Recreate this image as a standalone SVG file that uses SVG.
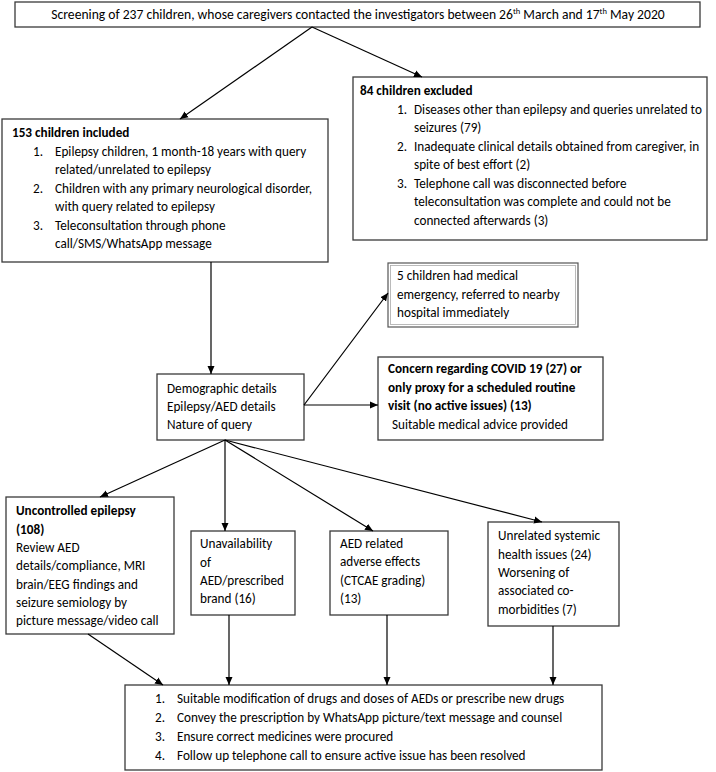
<svg xmlns="http://www.w3.org/2000/svg" width="716" height="772" viewBox="0 0 716 772">
<defs>
<marker id="ah" markerWidth="8" markerHeight="8" refX="8" refY="4" orient="auto" markerUnits="userSpaceOnUse">
<path d="M0,0.5 L8,4 L0,7.5 Z" fill="#000"/>
</marker>
<style>
.box{fill:#fff;stroke:#3a3a3a;stroke-width:1.3}
text{font-family:Carlito,Lato,"Liberation Sans",sans-serif;font-size:13.2px;fill:#000}
.b{font-weight:bold}
.c line{stroke:#000;stroke-width:1.2;marker-end:url(#ah)}
.sup{font-size:8.5px}
</style>
</defs>
<rect width="716" height="772" fill="#fff"/>

<g id="screening">
<rect class="box" x="15" y="2" width="685" height="25"/>
<text x="358" y="19" text-anchor="middle" font-size="13.6px" style="font-size:13.6px">Screening of 237 children, whose caregivers contacted the investigators between 26<tspan class="sup" dy="-5">th</tspan><tspan dy="5"> March and 17</tspan><tspan class="sup" dy="-5">th</tspan><tspan dy="5"> May 2020</tspan></text>
</g>

<g id="included">
<rect class="box" x="2" y="119" width="326" height="143"/>
<text x="12" y="137" class="b">153 children included</text>
<text x="33" y="155.5">1.</text><text x="55" y="155.5">Epilepsy children, 1 month-18 years with query</text>
<text x="55" y="174">related/unrelated to epilepsy</text>
<text x="33" y="192.5">2.</text><text x="55" y="192.5">Children with any primary neurological disorder,</text>
<text x="55" y="211">with query related to epilepsy</text>
<text x="33" y="229.5">3.</text><text x="55" y="229.5">Teleconsultation through phone</text>
<text x="55" y="248">call/SMS/WhatsApp message</text>
</g>

<g id="excluded">
<rect class="box" x="353" y="77" width="354" height="163"/>
<text x="360" y="95" class="b">84 children excluded</text>
<text x="397" y="114">1.</text><text x="414" y="114">Diseases other than epilepsy and queries unrelated to</text>
<text x="414" y="132">seizures (79)</text>
<text x="397" y="150.5">2.</text><text x="414" y="150.5">Inadequate clinical details obtained from caregiver, in</text>
<text x="414" y="169">spite of best effort (2)</text>
<text x="397" y="187.5">3.</text><text x="414" y="187.5">Telephone call was disconnected before</text>
<text x="414" y="206">teleconsultation was complete and could not be</text>
<text x="414" y="224.5">connected afterwards (3)</text>
</g>

<g id="emergency">
<rect x="388" y="263" width="190" height="64" fill="#fff" stroke="#555" stroke-width="1.2"/>
<rect x="390.5" y="265.5" width="185" height="59" fill="none" stroke="#aaa" stroke-width="0.8"/>
<text x="397" y="280">5 children had medical</text>
<text x="397" y="298.5">emergency, referred to nearby</text>
<text x="397" y="317">hospital immediately</text>
</g>

<g id="concern">
<rect class="box" x="378" y="357" width="225" height="83"/>
<text x="388" y="373" class="b">Concern regarding COVID 19 (27) or</text>
<text x="388" y="391.5" class="b">only proxy for a scheduled routine</text>
<text x="388" y="410" class="b">visit (no active issues) (13)</text>
<text x="392" y="428.5">Suitable medical advice provided</text>
</g>

<g id="demographic">
<rect class="box" x="157" y="374" width="147" height="66"/>
<text x="167" y="393">Demographic details</text>
<text x="167" y="411">Epilepsy/AED details</text>
<text x="167" y="429">Nature of query</text>
</g>

<g id="uncontrolled">
<rect class="box" x="6" y="497" width="168" height="137"/>
<text x="16" y="515" class="b">Uncontrolled epilepsy</text>
<text x="16" y="533.5" class="b">(108)</text>
<text x="16" y="552">Review AED</text>
<text x="16" y="570">details/compliance, MRI</text>
<text x="16" y="588.5">brain/EEG findings and</text>
<text x="16" y="607">seizure semiology by</text>
<text x="16" y="625">picture message/video call</text>
</g>

<g id="unavailability">
<rect class="box" x="191" y="531" width="104" height="84"/>
<text x="200" y="548">Unavailability</text>
<text x="200" y="566.5">of</text>
<text x="200" y="585">AED/prescribed</text>
<text x="200" y="603">brand (16)</text>
</g>

<g id="adverse">
<rect class="box" x="330" y="531" width="118" height="84"/>
<text x="340" y="547.5">AED related</text>
<text x="340" y="566">adverse effects</text>
<text x="340" y="584.5">(CTCAE grading)</text>
<text x="340" y="603">(13)</text>
</g>

<g id="unrelated">
<rect class="box" x="488" y="522" width="131" height="104"/>
<text x="498" y="540">Unrelated systemic</text>
<text x="498" y="558.5">health issues (24)</text>
<text x="498" y="577">Worsening of</text>
<text x="498" y="595">associated co-</text>
<text x="498" y="613.5">morbidities (7)</text>
</g>

<g id="actions">
<rect class="box" x="125" y="685" width="477" height="85"/>
<text x="155" y="703">1.</text><text x="177" y="703">Suitable modification of drugs and doses of AEDs or prescribe new drugs</text>
<text x="155" y="722">2.</text><text x="177" y="722">Convey the prescription by WhatsApp picture/text message and counsel</text>
<text x="155" y="741">3.</text><text x="177" y="741">Ensure correct medicines were procured</text>
<text x="155" y="759.5">4.</text><text x="177" y="759.5">Follow up telephone call to ensure active issue has been resolved</text>
</g>

<g class="c" id="connectors">
<line x1="312" y1="27" x2="180" y2="119"/>
<line x1="312" y1="27" x2="422" y2="77"/>
<line x1="211" y1="262" x2="211" y2="374"/>
<line x1="304" y1="405" x2="378" y2="405"/>
<line x1="304" y1="405" x2="388" y2="293"/>
<line x1="225" y1="440" x2="100" y2="497"/>
<line x1="225" y1="440" x2="225" y2="531"/>
<line x1="225" y1="440" x2="373" y2="531"/>
<line x1="225" y1="440" x2="542" y2="522"/>
<line x1="88" y1="634" x2="163" y2="685"/>
<line x1="229" y1="615" x2="229" y2="685"/>
<line x1="387" y1="615" x2="387" y2="685"/>
<line x1="553" y1="626" x2="553" y2="685"/>
</g>
</svg>
